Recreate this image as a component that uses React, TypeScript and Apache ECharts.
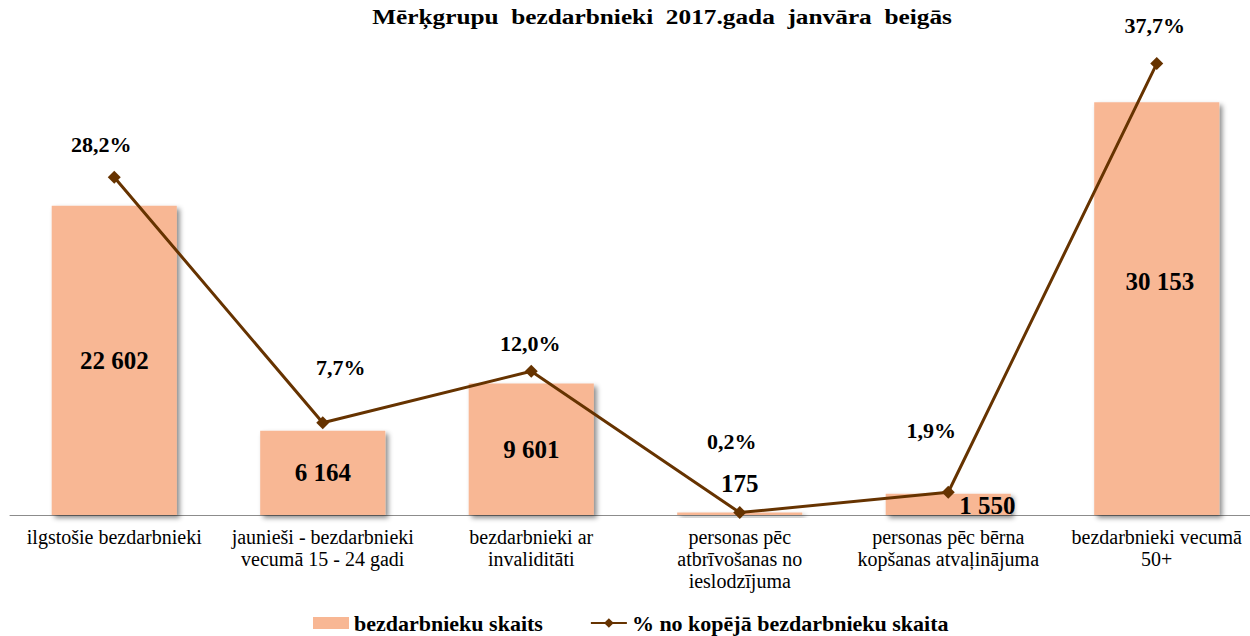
import React, { useEffect, useRef } from "react";
import * as echarts from "echarts";

const TITLE = "Mērķgrupu  bezdarbnieki  2017.gada  janvāra  beigās";
const categories = [
  "ilgstošie bezdarbnieki",
  "jaunieši - bezdarbnieki\nvecumā 15 - 24 gadi",
  "bezdarbnieki ar\ninvaliditāti",
  "personas pēc\natbrīvošanas no\nieslodzījuma",
  "personas pēc bērna\nkopšanas atvaļinājuma",
  "bezdarbnieki vecumā\n50+",
];
const counts = [22602, 6164, 9601, 175, 1550, 30153];
const percents = [28.2, 7.7, 12.0, 0.2, 1.9, 37.7];

// label placement tweaks (pixels), separate from data
const barLabelOffsets = [
  [0, 0],
  [0, 0],
  [0, 0],
  [0, -30],
  [39, 1],
  [3, -27],
];
const lineLabelOffsets = [
  [-13, -33],
  [18, -55],
  [-1, -28],
  [-8, -71],
  [-17, -62],
  [-2, -38],
];

const BAR_COLOR = "#F8B794";
const LINE_COLOR = "#663300";
const FONT = "Liberation Serif";

const fmtCount = (v: number) =>
  String(v).replace(/\B(?=(\d{3})+(?!\d))/g, " ");
const fmtPct = (v: number) => v.toFixed(1).replace(".", ",") + "%";

export default function App() {
  const ref = useRef<HTMLDivElement>(null);
  useEffect(() => {
    if (!ref.current) return;
    const chart = echarts.init(ref.current, null, { renderer: "svg" });
    chart.setOption({
      animation: false,
      backgroundColor: "#ffffff",
      textStyle: { fontFamily: FONT },
      graphic: [
        {
          type: "text",
          x: 662,
          y: 17,
          scaleX: 1.235,
          style: {
            text: TITLE,
            font: "bold 20.5px " + FONT,
            fill: "#000",
            align: "center",
            verticalAlign: "middle",
          },
        },
      ],
      legend: {
        top: 612,
        left: 313,
        padding: 0,
        itemGap: 47,
        itemWidth: 36,
        itemHeight: 12,
        textStyle: {
          fontFamily: FONT,
          fontWeight: "bold",
          fontSize: 22,
          lineHeight: 22,
          color: "#000",
        },
        data: [
          { name: "bezdarbnieku skaits", icon: "rect" },
          { name: "% no kopējā bezdarbnieku skaita" },
        ],
      },
      grid: { left: 10, right: 0, top: 36, bottom: 121, containLabel: false },
      xAxis: {
        type: "category",
        data: categories,
        axisLine: { show: true, lineStyle: { color: "#8c8c8c", width: 1 } },
        axisTick: { show: false },
        axisLabel: {
          interval: 0,
          margin: 11,
          fontFamily: FONT,
          fontSize: 20,
          lineHeight: 22,
          color: "#000",
        },
      },
      yAxis: [
        { type: "value", min: 0, max: 35000, show: false, splitLine: { show: false } },
        { type: "value", min: 0, max: 40, show: false, splitLine: { show: false } },
      ],
      series: [
        {
          name: "bezdarbnieku skaits",
          type: "bar",
          yAxisIndex: 0,
          barCategoryGap: "40%",
          itemStyle: {
            color: BAR_COLOR,
            shadowColor: "rgba(0,0,0,0.45)",
            shadowBlur: 5,
            shadowOffsetX: 3,
            shadowOffsetY: 3,
          },
          data: counts.map((v, i) => ({
            value: v,
            label: { position: "inside", offset: barLabelOffsets[i] },
          })),
          label: {
            show: true,
            position: "inside",
            fontFamily: FONT,
            fontWeight: "bold",
            fontSize: 25,
            color: "#000",
            formatter: (p: any) => fmtCount(p.value),
          },
          z: 1,
        },
        {
          name: "% no kopējā bezdarbnieku skaita",
          type: "line",
          yAxisIndex: 1,
          symbol: "diamond",
          symbolSize: 13,
          lineStyle: { color: LINE_COLOR, width: 3 },
          itemStyle: { color: LINE_COLOR },
          data: percents.map((v, i) => ({
            value: v,
            label: { offset: lineLabelOffsets[i] },
          })),
          label: {
            show: true,
            position: "inside",
            fontFamily: FONT,
            fontWeight: "bold",
            fontSize: 22,
            color: "#000",
            formatter: (p: any) => fmtPct(p.value),
          },
          z: 3,
        },
      ],
    });
    return () => chart.dispose();
  }, []);
  return (
    <div style={{ position: "absolute", left: 0, top: 0, width: 1250, height: 636, overflow: "hidden" }}>
      <div ref={ref} style={{ width: 1261, height: 636 }} />
    </div>
  );
}
